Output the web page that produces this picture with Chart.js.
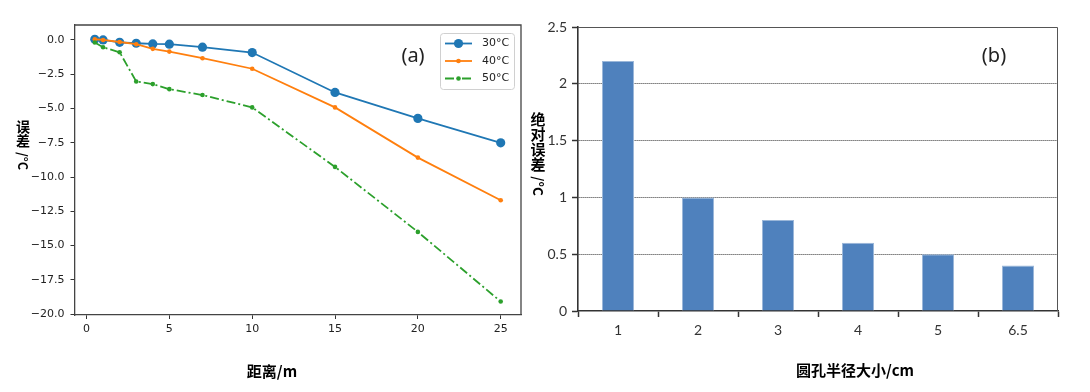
<!DOCTYPE html>
<html><head><meta charset="utf-8">
<script src="https://cdn.jsdelivr.net/npm/chart.js@4.4.0/dist/chart.umd.min.js"></script>
<style>
html,body{margin:0;padding:0;background:#fff;}
body{width:1090px;height:392px;position:relative;overflow:hidden;}
canvas{position:absolute;top:0;}
#c1{left:0;}
#c2{left:530px;}
.t{position:absolute;font-family:"Noto Sans CJK SC",sans-serif;color:#000;white-space:nowrap;line-height:1;transform:translate(-50%,-50%);}
.v{display:flex;flex-direction:column;align-items:center;}
.v span{display:block;line-height:1;}
.v .r{transform:rotate(90deg);margin-top:2px;font-size:0.9em;width:1em;height:1.9em;display:flex;align-items:center;justify-content:center;}
.v .r i{font-style:normal;display:block;white-space:nowrap;}
</style></head><body>
<canvas id="c1" width="530" height="392"></canvas>
<canvas id="c2" width="560" height="392"></canvas>
<div class="t" style="left:413px;top:55px;font-family:'Noto Sans',sans-serif;font-size:20px;color:#222;">(a)</div>
<div class="t" style="left:994px;top:55px;font-family:'Noto Sans',sans-serif;font-size:20px;color:#222;">(b)</div>
<div class="t" style="left:272px;top:370px;font-size:15px;font-weight:bold;">距离/m</div>
<div class="t" style="left:855px;top:369px;font-size:15px;font-weight:bold;">圆孔半径大小/cm</div>
<div class="t v" style="left:23px;top:146px;font-size:14px;font-weight:bold;"><span>误</span><span>差</span><span class="r"><i>/°C</i></span></div>
<div class="t v" style="left:538px;top:155px;font-size:15px;font-weight:bold;"><span>绝</span><span>对</span><span>误</span><span>差</span><span class="r"><i>/°C</i></span></div>
<script>
// ---- data: panel (a) ----
const distances = [0.5, 1, 2, 3, 4, 5, 7, 10, 15, 20, 25];
const err30 = [0.05, 0.0, -0.17, -0.24, -0.29, -0.31, -0.53, -0.92, -3.83, -5.72, -7.5];
const err40 = [0.05, 0.0, -0.15, -0.31, -0.65, -0.85, -1.33, -2.1, -4.92, -8.58, -11.69];
const err50 = [-0.19, -0.53, -0.9, -3.03, -3.22, -3.59, -4.02, -4.92, -9.26, -14.0, -19.08];
const seriesLabels = ['30°C', '40°C', '50°C'];
const distTicks = [0, 5, 10, 15, 20, 25];
const errTicks = [0, -2.5, -5, -7.5, -10, -12.5, -15, -17.5, -20];
// ---- data: panel (b) ----
const holeSizes = ['1', '2', '3', '4', '5', '6.5'];
const absErr = [2.2, 1.0, 0.8, 0.6, 0.5, 0.4];
const absErrTicks = [0, 0.5, 1, 1.5, 2, 2.5];

const pts = arr => distances.map((d, i) => ({x: d, y: arr[i]}));
const tickFontA = {family: 'DejaVu Sans', size: 11};

const frameA = {
  id: 'frameA',
  afterDatasetsDraw(chart) {
    const {ctx, chartArea: a} = chart;
    ctx.save();
    ctx.strokeStyle = '#444'; ctx.lineWidth = 1.3;
    ctx.beginPath();
    ctx.moveTo(a.left, a.top); ctx.lineTo(a.right, a.top); ctx.lineTo(a.right, a.bottom);
    ctx.stroke();
    // legend
    const bx = 440, by = 33, bw = 74, bh = 56;
    ctx.fillStyle = 'rgba(255,255,255,0.85)';
    ctx.strokeStyle = '#d0d0d0'; ctx.lineWidth = 1;
    ctx.beginPath();
    ctx.roundRect(bx + 0.5, by + 0.5, bw, bh, 3);
    ctx.fill(); ctx.stroke();
    const rows = [43.5, 61, 78.5];
    chart.data.datasets.forEach((ds, i) => {
      const y = rows[i];
      ctx.strokeStyle = ds.borderColor; ctx.lineWidth = ds.borderWidth;
      ctx.setLineDash(ds.borderDash || []);
      ctx.beginPath(); ctx.moveTo(445, y); ctx.lineTo(472, y); ctx.stroke();
      ctx.setLineDash([]);
      ctx.fillStyle = ds.borderColor;
      ctx.beginPath(); ctx.arc(458.5, y, ds.pointRadius, 0, Math.PI * 2); ctx.fill();
      ctx.fillStyle = '#222';
      ctx.font = '11px "DejaVu Sans"';
      ctx.textBaseline = 'middle'; ctx.textAlign = 'left';
      ctx.fillText(ds.label, 482, y);
    });
    ctx.restore();
  }
};

new Chart(document.getElementById('c1'), {
  type: 'line',
  data: {
    datasets: [
      {label: seriesLabels[0], data: pts(err30), borderColor: '#1f77b4', backgroundColor: '#1f77b4',
       borderWidth: 1.8, pointRadius: 4.6, pointBorderWidth: 0, order: 3},
      {label: seriesLabels[1], data: pts(err40), borderColor: '#ff7f0e', backgroundColor: '#ff7f0e',
       borderWidth: 1.8, pointRadius: 2.3, pointBorderWidth: 0, order: 2},
      {label: seriesLabels[2], data: pts(err50), borderColor: '#2ca02c', backgroundColor: '#2ca02c',
       borderWidth: 1.8, pointRadius: 2.3, pointBorderWidth: 0, borderDash: [9, 3, 2, 3], order: 1}
    ]
  },
  options: {
    responsive: false, animation: false, devicePixelRatio: 1, events: [],
    layout: {padding: {left: 0, top: 25, right: 9, bottom: 0}},
    plugins: {legend: {display: false}, tooltip: {enabled: false}},
    scales: {
      x: {
        type: 'linear', min: -0.725, max: 26.225,
        afterBuildTicks: s => { s.ticks = distTicks.map(v => ({value: v})); },
        afterFit: s => { s.height = 77; },
        grid: {drawOnChartArea: false, tickLength: 4, tickColor: '#333', tickWidth: 1},
        border: {color: '#444', width: 1.3},
        ticks: {font: tickFontA, color: '#222', padding: 4, maxRotation: 0,
                callback: v => String(v)}
      },
      y: {
        type: 'linear', min: -20.06, max: 1.09,
        afterBuildTicks: s => { s.ticks = errTicks.map(v => ({value: v})); },
        afterFit: s => { s.width = 74.5; },
        grid: {drawOnChartArea: false, tickLength: 4, tickColor: '#333', tickWidth: 1},
        border: {color: '#444', width: 1.3},
        ticks: {font: tickFontA, color: '#222', padding: 6,
                callback: v => (v < 0 ? '\u2212' : '') + Math.abs(v).toFixed(1)}
      }
    }
  },
  plugins: [frameA]
});

const frameB = {
  id: 'frameB',
  afterDraw(chart) {
    const {ctx, chartArea: a} = chart;
    ctx.save();
    ctx.strokeStyle = '#555'; ctx.lineWidth = 1;
    ctx.beginPath();
    ctx.moveTo(a.left, a.top + 0.5); ctx.lineTo(a.right - 0.5, a.top + 0.5); ctx.lineTo(a.right - 0.5, a.bottom);
    ctx.stroke();
    ctx.restore();
  }
};

new Chart(document.getElementById('c2'), {
  type: 'bar',
  data: {
    labels: holeSizes,
    datasets: [{data: absErr, backgroundColor: '#4f81bd', borderColor: '#9bb7d9', borderWidth: 1,
                barPercentage: 0.4, categoryPercentage: 1}]
  },
  options: {
    responsive: false, animation: false, devicePixelRatio: 1, events: [],
    layout: {padding: {left: 0, top: 27, right: 32, bottom: 0}},
    plugins: {legend: {display: false}, tooltip: {enabled: false}},
    scales: {
      x: {
        afterFit: s => { s.height = 81; },
        grid: {offset: true, drawOnChartArea: false, tickLength: 6, tickColor: '#333', tickWidth: 1.5},
        border: {color: '#333', width: 1.6},
        ticks: {font: {family: 'Lato', size: 14}, color: '#333', padding: 5}
      },
      y: {
        min: 0, max: 2.5,
        afterBuildTicks: s => { s.ticks = absErrTicks.map(v => ({value: v})); },
        afterFit: s => { s.width = 48; },
        grid: {
          color: c => (c.tick && (c.tick.value === 0 || c.tick.value === 2.5)) ? 'rgba(0,0,0,0)' : '#333',
          lineWidth: 1, tickLength: 6, tickColor: '#333', tickWidth: 1.5
        },
        border: {color: '#333', width: 1.6, dash: [1, 1]},
        ticks: {font: {family: 'Lato', size: 14}, color: '#333', padding: 5,
                callback: v => String(v)}
      }
    }
  },
  plugins: [frameB]
});
</script>
</body></html>
